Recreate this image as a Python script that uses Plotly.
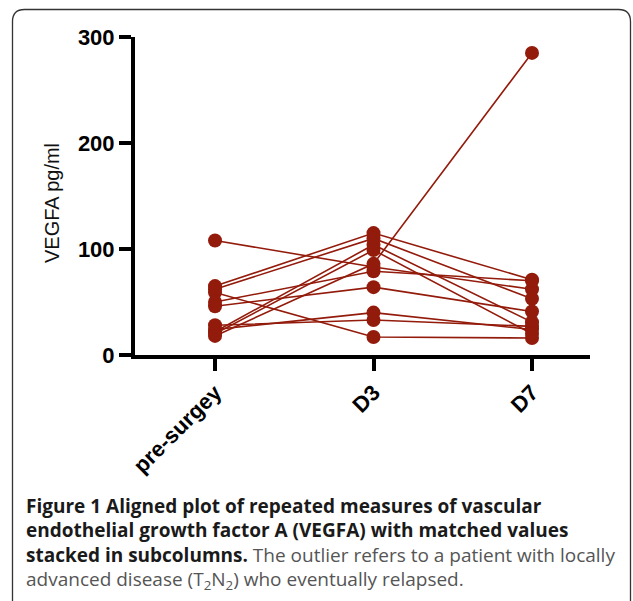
import plotly.graph_objects as go

categories = ["pre-surgey", "D3", "D7"]
pre_surgery = [108, 65, 62, 59, 50, 46, 28, 24, 22, 20, 18]
day3 = [83, 115, 110, 17, 79, 64, 33, 40, 104, 99, 86]
day7 = [62, 71, 53, 16, 70, 41, 27, 24, 31, 20, 285]
y_ticks = [0, 100, 200, 300]

W, H = 633, 601
L, R, T, B = 135, 43, 37, 246
PW, PH = W - L - R, H - T - B
RED = "#931b0b"


def px(x):
    return (x - L) / PW


def py(y):
    return (H - B - y) / PH


fig = go.Figure()
for a, b, c in zip(pre_surgery, day3, day7):
    fig.add_trace(go.Scatter(
        x=categories, y=[a, b, c], mode="lines+markers",
        line=dict(color=RED, width=1.6),
        marker=dict(color=RED, size=14),
        showlegend=False, cliponaxis=False, hoverinfo="skip"))

# rounded frame
x0, y0, x1, y1, r = 12.5, 9.5, 630.5, 640, 12
path = (f"M {px(x0)},{py(y1)} L {px(x0)},{py(y0 + r)} "
        f"Q {px(x0)},{py(y0)} {px(x0 + r)},{py(y0)} "
        f"L {px(x1 - r)},{py(y0)} Q {px(x1)},{py(y0)} {px(x1)},{py(y0 + r)} "
        f"L {px(x1)},{py(y1)}")
fig.add_shape(type="path", xref="paper", yref="paper", path=path,
              line=dict(color="#333333", width=1.3), layer="below")

cap_font = "Open Sans, Noto Sans, sans-serif"
cap_lines = [
    "<b>Figure 1 Aligned plot of repeated measures of vascular</b>",
    "<b>endothelial growth factor A (VEGFA) with matched values</b>",
    "<b>stacked in subcolumns.</b><span style='color:#555555'> The outlier refers to a patient with locally</span>",
    "<span style='color:#555555'>advanced disease (T<sub>2</sub>N<sub>2</sub>) who eventually relapsed.</span>",
]
cap_y = [506, 530, 555, 580]
for t, yy in zip(cap_lines, cap_y):
    fig.add_annotation(text=t, xref="paper", yref="paper", x=px(24), y=py(yy),
                       xanchor="left", yanchor="middle", showarrow=False,
                       font=dict(family=cap_font, size=19, color="#1a1a1a"))

fig.add_annotation(text="VEGFA pg/ml", xref="paper", yref="paper",
                   x=px(52), y=py(203), textangle=-90, showarrow=False,
                   xanchor="center", yanchor="middle",
                   font=dict(family="Liberation Sans, Arial", size=20, color="#111111"))

tick_font = dict(family="Liberation Sans, Arial", size=22, color="black", weight="bold")
fig.update_layout(
    width=W, height=H, margin=dict(l=L, r=R, t=T, b=B, pad=0),
    paper_bgcolor="white", plot_bgcolor="white",
    xaxis=dict(type="category", range=[-0.505, 2.366], showline=True,
               linecolor="black", linewidth=4, ticks="outside", ticklen=12,
               tickwidth=4, tickcolor="black", tickangle=-45, showgrid=False,
               zeroline=False, tickfont=tick_font),
    yaxis=dict(range=[0, 300], tickvals=y_ticks, showline=True, linecolor="black",
               linewidth=4, ticks="outside", ticklen=12, tickwidth=4,
               tickcolor="black", showgrid=False, zeroline=False,
               tickfont=tick_font),
)

fig.write_html("out.html")
